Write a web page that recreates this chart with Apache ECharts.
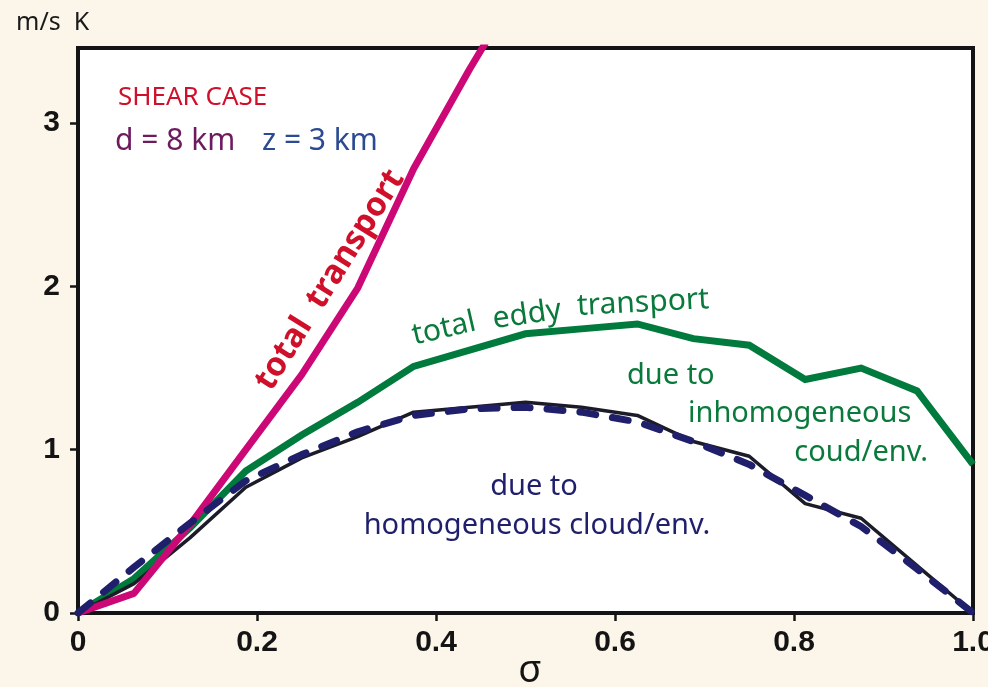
<!DOCTYPE html>
<html>
<head>
<meta charset="utf-8">
<script src="https://cdn.jsdelivr.net/npm/echarts@6/dist/echarts.min.js"></script>
<style>
html,body{margin:0;padding:0;background:#fcf5e9;}
#chart{width:988px;height:687px;}
</style>
</head>
<body>
<div id="chart"></div>
<script>
// sigma sample positions (k/16)
var sigma = [0, 0.0625, 0.125, 0.1875, 0.25, 0.3125, 0.375, 0.4375, 0.5, 0.5625, 0.625, 0.6875, 0.75, 0.8125, 0.875, 0.9375, 1.0];
var totalTransportSigma = [0, 0.0625, 0.125, 0.1875, 0.25, 0.3125, 0.375, 0.4375, 0.5];
var totalTransport = [0, 0.12, 0.54, 1.0, 1.46, 1.99, 2.72, 3.33, 3.9];
var totalEddy = [0, 0.21, 0.52, 0.87, 1.09, 1.29, 1.51, 1.61, 1.71, 1.74, 1.77, 1.68, 1.64, 1.43, 1.50, 1.36, 0.91];
var inhomogeneous = [0, 0.18, 0.46, 0.77, 0.95, 1.08, 1.23, 1.26, 1.29, 1.26, 1.21, 1.05, 0.96, 0.67, 0.58, 0.29, 0];
var homogeneous = [0, 0.28, 0.55, 0.81, 0.97, 1.11, 1.21, 1.25, 1.26, 1.23, 1.17, 1.05, 0.91, 0.72, 0.53, 0.27, 0];
var xTicks = [0, 0.2, 0.4, 0.6, 0.8, 1.0];
var yTicks = [0, 1, 2, 3];
var xAxisTitle = 'σ';
var yAxisTitle = 'm/s  K';

function pairs(xs, ys) { return xs.map(function (x, i) { return [x, ys[i]]; }); }

var chart = echarts.init(document.getElementById('chart'));
var labelFont = "'Liberation Sans Narrow', 'Liberation Sans', Arial, sans-serif";
var annFont = "'Noto Sans', sans-serif";
function deg(d) { return d * Math.PI / 180; }

var option = {
  backgroundColor: '#fcf5e9',
  animation: false,
  grid: {
    left: 78, right: 15, top: 48, bottom: 74,
    outerBoundsMode: 'none', containLabel: false,
    show: true, backgroundColor: '#ffffff', borderColor: '#141414', borderWidth: 4
  },
  xAxis: {
    type: 'value', min: 0, max: 1, interval: 0.2,
    axisLine: { show: true, lineStyle: { color: '#141414', width: 4 } },
    axisTick: { show: true, inside: false, length: 8, lineStyle: { color: '#141414', width: 2.5 } },
    splitLine: { show: false },
    axisLabel: {
      margin: 15, fontSize: 30, fontWeight: 'bold', color: '#141414', fontFamily: labelFont,
      formatter: function (v) {
        for (var i = 0; i < xTicks.length; i++) {
          if (Math.abs(v - xTicks[i]) < 1e-6) return v === 0 ? '0' : xTicks[i].toFixed(1);
        }
        return '';
      }
    }
  },
  yAxis: {
    type: 'value', min: 0, max: 3.46, interval: 1,
    axisLine: { show: true, lineStyle: { color: '#141414', width: 4 } },
    axisTick: { show: true, inside: false, length: 8, lineStyle: { color: '#141414', width: 2.5 } },
    splitLine: { show: false },
    axisLabel: {
      margin: 18, fontSize: 30, fontWeight: 'bold', color: '#141414', fontFamily: labelFont,
      showMaxLabel: false,
      formatter: function (v) { return yTicks.indexOf(v) >= 0 ? String(v) : ''; }
    }
  },
  series: [
    {
      name: 'total eddy transport', type: 'line', symbol: 'none', clip: true,
      data: pairs(sigma, totalEddy),
      lineStyle: { color: '#007a3d', width: 7, join: 'miter' }, z: 2
    },
    {
      name: 'due to inhomogeneous', type: 'line', symbol: 'none', clip: true,
      data: pairs(sigma, inhomogeneous),
      lineStyle: { color: '#1c1c28', width: 3.5 }, z: 3
    },
    {
      name: 'total transport', type: 'line', symbol: 'none', clip: true,
      data: pairs(totalTransportSigma, totalTransport),
      lineStyle: { color: '#cc0877', width: 7 }, z: 4
    },
    {
      name: 'due to homogeneous', type: 'line', symbol: 'none', clip: true,
      data: pairs(sigma, homogeneous),
      lineStyle: { color: '#1f1f6b', width: 7, type: [16, 17], cap: 'round' }, z: 5
    }
  ],
  graphic: [
    { type: 'text', x: 16, y: 23, style: { text: yAxisTitle, font: '25px ' + annFont, fill: '#1a1a1a', textVerticalAlign: 'middle' } },
    { type: 'text', x: 530, y: 671, style: { text: xAxisTitle, font: '38px ' + annFont, fill: '#141414', textAlign: 'center', textVerticalAlign: 'middle' } },
    { type: 'text', x: 118, y: 98, style: { text: 'SHEAR CASE', font: '26px ' + annFont, fill: '#d0102a', textVerticalAlign: 'middle' } },
    { type: 'text', x: 115, y: 141, style: { text: 'd = 8 km', font: '30px ' + annFont, fill: '#6e1a5e', textVerticalAlign: 'middle' } },
    { type: 'text', x: 262, y: 141, style: { text: 'z = 3 km', font: '30px ' + annFont, fill: '#2b4a93', textVerticalAlign: 'middle' } },
    { type: 'text', x: 330, y: 280, rotation: deg(58), style: { text: 'total  transport', font: 'bold 33px ' + annFont, fill: '#d0102a', textAlign: 'center', textVerticalAlign: 'middle' } },
    { type: 'text', x: 444, y: 329, rotation: deg(13), style: { text: 'total', font: '30px ' + annFont, fill: '#0a7a3c', textAlign: 'center', textVerticalAlign: 'middle' } },
    { type: 'text', x: 527, y: 315, rotation: deg(8), style: { text: 'eddy', font: '30px ' + annFont, fill: '#0a7a3c', textAlign: 'center', textVerticalAlign: 'middle' } },
    { type: 'text', x: 643, y: 303, rotation: deg(3), style: { text: 'transport', font: '30px ' + annFont, fill: '#0a7a3c', textAlign: 'center', textVerticalAlign: 'middle' } },
    { type: 'text', x: 627, y: 376, style: { text: 'due to', font: '29px ' + annFont, fill: '#0a7a3c', textVerticalAlign: 'middle' } },
    { type: 'text', x: 688, y: 414, style: { text: 'inhomogeneous', font: '29px ' + annFont, fill: '#0a7a3c', textVerticalAlign: 'middle' } },
    { type: 'text', x: 928, y: 453, style: { text: 'coud/env.', font: '29px ' + annFont, fill: '#0a7a3c', textAlign: 'right', textVerticalAlign: 'middle' } },
    { type: 'text', x: 534, y: 487, style: { text: 'due to', font: '29px ' + annFont, fill: '#1f1f6b', textAlign: 'center', textVerticalAlign: 'middle' } },
    { type: 'text', x: 537, y: 526, style: { text: 'homogeneous cloud/env.', font: '29px ' + annFont, fill: '#1f1f6b', textAlign: 'center', textVerticalAlign: 'middle' } }
  ]
};
chart.setOption(option);
</script>
</body>
</html>
